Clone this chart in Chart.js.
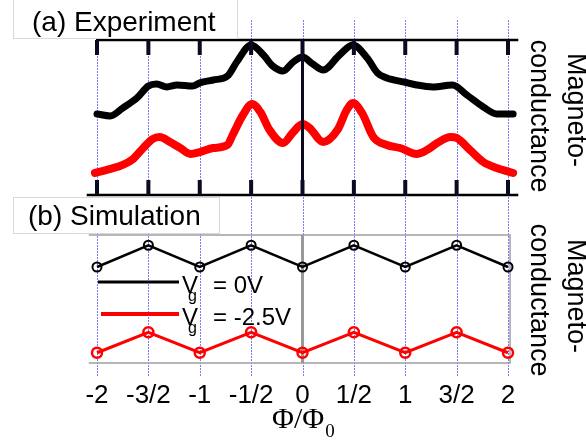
<!DOCTYPE html>
<html>
<head>
<meta charset="utf-8">
<script src="https://cdn.jsdelivr.net/npm/chart.js@4.4.1/dist/chart.umd.min.js"></script>
<style>
  html, body { margin: 0; padding: 0; background: #fff; }
  #wrap { position: relative; width: 586px; height: 440px; }
  #wrap canvas { position: absolute; left: 0; top: 0; }
</style>
</head>
<body>
<div id="wrap">
  <canvas id="expChart" width="586" height="440"></canvas>
  <canvas id="simChart" width="586" height="440"></canvas>
</div>
<script>
// flux ticks (Phi/Phi0) and their labels
const fluxTicks = [-2, -1.5, -1, -0.5, 0, 0.5, 1, 1.5, 2];
const fluxLabels = ['-2', '-3/2', '-1', '-1/2', '0', '1/2', '1', '3/2', '2'];

// (a) experiment, magnetoconductance in arb. units
const expFluxBlack = [-2.0, -1.87, -1.75, -1.61, -1.5, -1.42, -1.32, -1.22, -1.07, -1.0, -0.87, -0.73, -0.64, -0.5, -0.38, -0.29, -0.19, -0.09, 0, 0.1, 0.2, 0.36, 0.49, 0.63, 0.73, 0.82, 0.99, 1.11, 1.27, 1.46, 1.6, 1.76, 1.89, 2.05];
const expBlack = [52.3, 51.0, 56.1, 62.6, 70.3, 71.6, 69.7, 71.0, 70.3, 72.3, 74.2, 76.8, 85.8, 96.8, 90.3, 83.2, 80.0, 85.8, 89.0, 84.5, 80.6, 90.3, 96.8, 88.4, 78.7, 75.5, 72.9, 71.0, 69.7, 71.0, 64.5, 56.8, 52.3, 52.3];

const expFluxRed = [-2.02, -1.87, -1.75, -1.65, -1.55, -1.46, -1.39, -1.29, -1.19, -1.09, -1.0, -0.87, -0.73, -0.68, -0.58, -0.49, -0.41, -0.32, -0.19, -0.09, 0, 0.07, 0.2, 0.34, 0.43, 0.49, 0.58, 0.69, 0.82, 0.95, 1.11, 1.21, 1.31, 1.44, 1.5, 1.63, 1.76, 1.89, 2.05];
const expRed = [14.2, 16.8, 19.4, 23.2, 30.3, 36.1, 37.4, 34.2, 30.3, 26.5, 27.7, 30.3, 32.3, 38.7, 51.6, 58.7, 53.5, 41.9, 33.5, 40.6, 45.8, 43.2, 34.2, 41.9, 54.8, 59.4, 52.9, 37.4, 32.3, 30.3, 26.5, 29.0, 33.5, 37.4, 36.8, 29.0, 21.3, 17.4, 14.2];

// (b) simulation at the flux ticks
const simBlack = [0.75, 0.92, 0.75, 0.92, 0.75, 0.92, 0.75, 0.92, 0.75];
const simRed = [0.08, 0.24, 0.08, 0.24, 0.08, 0.24, 0.08, 0.24, 0.08];

const legendLabels = ['= 0V', '= -2.5V'];

const SANS = '"Liberation Sans", Arial, sans-serif';
const SERIF = '"Liberation Serif", "Times New Roman", serif';

const pts = (xs, ys) => xs.map((x, i) => ({ x: x, y: ys[i] }));

function baseOptions(yMin, yMax, padTop, padBottom) {
    return {
        responsive: false,
        animation: false,
        layout: { padding: { left: 76.45, right: 57.45, top: padTop, bottom: padBottom } },
        scales: {
            x: { type: 'linear', min: -2.2, max: 2.2, display: false },
            y: { min: yMin, max: yMax, display: false }
        },
        plugins: { legend: { display: false }, tooltip: { enabled: false } }
    };
}

// blue dotted guides + black frame with ticks for panel (a)
const expFrame = {
    id: 'expFrame',
    beforeDatasetsDraw(chart) {
        const { ctx, scales: { x } } = chart;
        ctx.save();
        ctx.strokeStyle = '#7a7aff';
        ctx.lineWidth = 1;
        ctx.setLineDash([2, 1]);
        fluxTicks.forEach(v => {
            const px = Math.round(x.getPixelForValue(v)) + 0.5;
            ctx.beginPath();
            ctx.moveTo(px, 20);
            ctx.lineTo(px, 376);
            ctx.stroke();
        });
        ctx.restore();
    },
    afterDatasetsDraw(chart) {
        const { ctx, chartArea: a, scales: { x } } = chart;
        ctx.save();
        ctx.strokeStyle = '#000';
        ctx.lineWidth = 2.5;
        ctx.beginPath();
        ctx.moveTo(x.getPixelForValue(-2) - 1, a.top);
        ctx.lineTo(x.getPixelForValue(2.1), a.top);
        ctx.moveTo(x.getPixelForValue(-2.1), a.bottom);
        ctx.lineTo(x.getPixelForValue(2.1), a.bottom);
        ctx.stroke();

        ctx.strokeStyle = '#0a0a22';
        ctx.lineWidth = 4;
        fluxTicks.forEach(v => {
            const px = x.getPixelForValue(v);
            ctx.beginPath();
            ctx.moveTo(px, a.top);
            ctx.lineTo(px, a.top + 15);
            ctx.moveTo(px, a.bottom);
            ctx.lineTo(px, a.bottom - 15);
            ctx.stroke();
        });
        ctx.lineWidth = 3;
        ctx.beginPath();
        ctx.moveTo(x.getPixelForValue(0), a.top);
        ctx.lineTo(x.getPixelForValue(0), a.bottom);
        ctx.stroke();
        ctx.restore();
    }
};

function titleBox(ctx, text, x0, y0, w, h, tx, ty) {
    ctx.fillStyle = '#fff';
    ctx.fillRect(x0, y0, w, h);
    ctx.strokeStyle = '#d8d8d8';
    ctx.lineWidth = 1;
    ctx.strokeRect(x0 + 0.5, y0 + 0.5, w, h);
    ctx.fillStyle = '#000';
    ctx.font = '28px ' + SANS;
    ctx.textAlign = 'left';
    ctx.textBaseline = 'alphabetic';
    ctx.fillText(text, tx, ty);
}

function sideLabel(ctx, xRight, yRight, xLeft, yLeft) {
    ctx.font = '27px ' + SANS;
    ctx.fillStyle = '#000';
    ctx.textAlign = 'center';
    ctx.textBaseline = 'middle';
    [['Magneto-', xRight, yRight], ['conductance', xLeft, yLeft]].forEach(([s, cx, cy]) => {
        ctx.save();
        ctx.translate(cx, cy);
        ctx.rotate(Math.PI / 2);
        ctx.fillText(s, 0, 0);
        ctx.restore();
    });
}

// gray frame, legend, tick labels and all text for panel (b)
const simFrame = {
    id: 'simFrame',
    beforeDatasetsDraw(chart) {
        const { ctx, chartArea: a, scales: { x } } = chart;
        ctx.save();
        ctx.strokeStyle = '#a0a0a0';
        ctx.lineWidth = 1.5;
        ctx.beginPath();
        ctx.moveTo(x.getPixelForValue(-2.08), a.top);
        ctx.lineTo(x.getPixelForValue(2.02), a.top);
        ctx.lineTo(x.getPixelForValue(2.02), a.bottom);
        ctx.lineTo(x.getPixelForValue(-2.08), a.bottom);
        ctx.stroke();
        ctx.strokeStyle = '#999';
        ctx.lineWidth = 3;
        ctx.beginPath();
        ctx.moveTo(x.getPixelForValue(0), a.top);
        ctx.lineTo(x.getPixelForValue(0), a.bottom);
        ctx.stroke();
        ctx.restore();
    },
    afterDraw(chart) {
        const { ctx, scales: { x } } = chart;
        ctx.save();

        // legend
        const colors = ['#000', '#ff0000'];
        const rows = [293, 325];
        ctx.lineCap = 'butt';
        colors.forEach((c, i) => {
            ctx.strokeStyle = c;
            ctx.lineWidth = i === 0 ? 3 : 4;
            ctx.beginPath();
            ctx.moveTo(i === 0 ? 98 : 101, rows[i] - 11);
            ctx.lineTo(179, rows[i] - 11);
            ctx.stroke();
            ctx.fillStyle = '#000';
            ctx.textAlign = 'left';
            ctx.textBaseline = 'alphabetic';
            ctx.font = '24px ' + SANS;
            ctx.fillText('V', 182, rows[i]);
            ctx.font = '16px ' + SANS;
            ctx.fillText('g', 188, rows[i] + 8);
            ctx.font = '24px ' + SANS;
            ctx.fillText(legendLabels[i], 213, rows[i]);
        });

        // tick labels
        ctx.font = '26px ' + SANS;
        ctx.textAlign = 'center';
        fluxTicks.forEach((v, i) => {
            ctx.fillText(fluxLabels[i], x.getPixelForValue(v), 403);
        });

        // axis title Phi/Phi0
        ctx.textAlign = 'left';
        ctx.font = '30px ' + SERIF;
        const main = '\u03A6/\u03A6';
        ctx.fillText(main, 272, 428);
        const w = ctx.measureText(main).width;
        ctx.font = '19px ' + SERIF;
        ctx.fillText('0', 272 + w + 1, 437);

        titleBox(ctx, '(a) Experiment', 13, -1, 224, 39, 32, 31);
        titleBox(ctx, '(b) Simulation', 13, 197, 206, 36, 28, 225);

        sideLabel(ctx, 575, 110, 538, 116);
        sideLabel(ctx, 575, 296, 538, 300);
        ctx.restore();
    }
};

new Chart(document.getElementById('expChart'), {
    type: 'line',
    data: {
        datasets: [
            { data: pts(expFluxBlack, expBlack), borderColor: '#000', borderWidth: 7, pointRadius: 0, cubicInterpolationMode: 'monotone', borderCapStyle: 'round', borderJoinStyle: 'round', clip: false },
            { data: pts(expFluxRed, expRed), borderColor: '#ff0000', borderWidth: 8, pointRadius: 0, cubicInterpolationMode: 'monotone', borderCapStyle: 'round', borderJoinStyle: 'round', clip: false }
        ]
    },
    options: baseOptions(0, 100, 40, 245),
    plugins: [expFrame]
});

new Chart(document.getElementById('simChart'), {
    type: 'line',
    data: {
        datasets: [
            { data: pts(fluxTicks, simBlack), borderColor: '#000', borderWidth: 2.5, tension: 0, pointRadius: 4.5, pointBorderWidth: 2, pointBorderColor: '#000', pointBackgroundColor: 'rgba(0,0,0,0)', clip: false },
            { data: pts(fluxTicks, simRed), borderColor: '#ff0000', borderWidth: 3, tension: 0, pointRadius: 5, pointBorderWidth: 2.5, pointBorderColor: '#ff0000', pointBackgroundColor: 'rgba(0,0,0,0)', clip: false }
        ]
    },
    options: baseOptions(0, 1, 235, 77),
    plugins: [simFrame]
});
</script>
</body>
</html>
